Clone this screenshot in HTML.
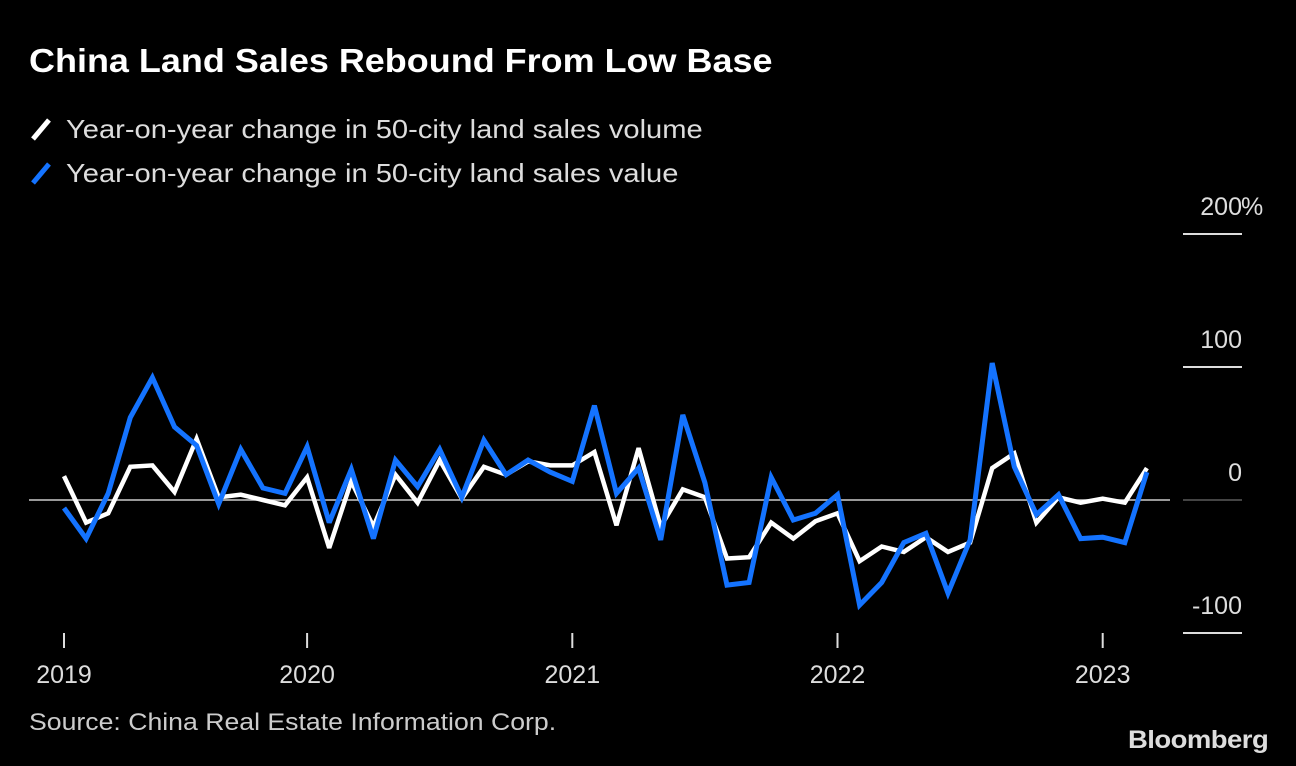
<!DOCTYPE html>
<html><head><meta charset="utf-8">
<style>
html,body{margin:0;padding:0;background:#000;}
body{width:1296px;height:766px;overflow:hidden;position:relative;font-family:"Liberation Sans",sans-serif;color:#fff;}
.t{position:absolute;white-space:nowrap;transform-origin:0 0;}
</style></head>
<body>
<div class="t" style="left:29px;top:42px;font-size:33px;font-weight:bold;transform:scaleX(1.09);">China Land Sales Rebound From Low Base</div>
<div class="t" style="left:30px;top:114px;font-size:26px;color:#ddd;"><svg width="22" height="26" style="vertical-align:-4px;margin-right:14px"><line x1="3" y1="23" x2="19" y2="4" stroke="#fff" stroke-width="5"/></svg><span style="display:inline-block;transform:scaleX(1.12);transform-origin:0 0">Year-on-year change in 50-city land sales volume</span></div>
<div class="t" style="left:30px;top:158px;font-size:26px;color:#ddd;"><svg width="22" height="26" style="vertical-align:-4px;margin-right:14px"><line x1="3" y1="23" x2="19" y2="4" stroke="#1473ff" stroke-width="5"/></svg><span style="display:inline-block;transform:scaleX(1.12);transform-origin:0 0">Year-on-year change in 50-city land sales value</span></div>
<svg id="chart" width="1296" height="766" style="position:absolute;left:0;top:0"></svg>
<div class="t" style="left:29px;top:709px;font-size:24px;color:#ccc;transform:scaleX(1.11);">Source: China Real Estate Information Corp.</div>
<div class="t" style="left:1128px;top:726px;font-size:25px;font-weight:bold;color:#ddd;letter-spacing:-0.5px;transform:scaleX(1.1);">Bloomberg</div>
<script>
const volume=[18,-17,-10,25,26,6,46,2,4,0,-4,17,-36,14,-20,19,-2,30,1,25,19,29,26,26,36,-19,39,-20,8,2,-44,-43,-17,-29,-16,-10,-46,-35,-39,-28,-39,-32,24,35,-17,2,-2,1,-2,24];
const value=[-6,-29,5,62,92,55,41,-3,38,9,5,40,-17,23,-29,30,10,38,2,45,19,30,21,14,71,5,24,-30,64,13,-64,-62,17,-15,-10,4,-79,-62,-32,-25,-70,-30,103,25,-11,4,-29,-28,-32,21];
const yTicks=[200,100,0,-100];
const yTickLabels=["200","100","0","-100"];
const xTickIdx=[0,11,23,35,47];
const xTickLabels=["2019","2020","2021","2022","2023"];
const NS="http://www.w3.org/2000/svg";
const svg=document.getElementById('chart');
const xs=i=>64+i*22.1;
const ys=v=>500-v*1.33;
function mk(tag,attrs){const e=document.createElementNS(NS,tag);for(const k in attrs)e.setAttribute(k,attrs[k]);svg.appendChild(e);return e;}
yTicks.forEach((t,i)=>{
  const y=ys(t);
  const ln=mk('line',{x1:1183,x2:1242,y1:y,y2:y,stroke:t===0?'#444':'#ddd','stroke-width':2});
  
  
  const tx=mk('text',{x:1242,y:y-19,'text-anchor':'end','font-size':25,fill:'#ddd','font-family':'Liberation Sans, sans-serif'});
  tx.textContent=yTickLabels[i];
  
  
  if(t===200){
    const pc=mk('text',{x:1241,y:y-19,'font-size':25,fill:'#ddd','font-family':'Liberation Sans, sans-serif'});
    pc.textContent='%';
    
    
  }
});
const zl=mk('line',{x1:29,x2:1170,y1:ys(0),y2:ys(0),stroke:'#ccc','stroke-width':1.5});


xTickIdx.forEach((idx,i)=>{
  const x=xs(idx);
  const ln=mk('line',{x1:x,x2:x,y1:633,y2:648,stroke:'#ddd','stroke-width':2});
  
  
  const tx=mk('text',{x:x,y:683,'text-anchor':'middle','font-size':25,fill:'#ddd','font-family':'Liberation Sans, sans-serif'});
  tx.textContent=xTickLabels[i];
  
  
});
function line(data){return data.map((v,i)=>(i?'L':'M')+xs(i).toFixed(1)+','+ys(v).toFixed(1)).join(' ');}
const pv=mk('path',{d:line(volume),fill:'none',stroke:'#fff','stroke-width':4.5,'stroke-linejoin':'miter','stroke-miterlimit':3});


const pb=mk('path',{d:line(value),fill:'none',stroke:'#1473ff','stroke-width':5,'stroke-linejoin':'miter','stroke-miterlimit':3});


</script>
</body></html>
